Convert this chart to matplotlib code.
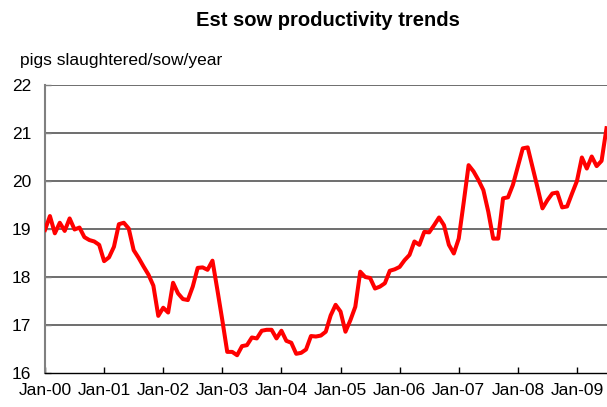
import matplotlib
matplotlib.use("Agg")
import matplotlib.pyplot as plt
import numpy as np

plt.rcParams['font.family'] = ['Liberation Sans', 'DejaVu Sans']

# Monthly series, Jan-2000 .. Jul-2009
values = [
    18.98, 19.27, 18.91, 19.13, 18.96, 19.22, 18.99, 19.03, 18.83, 18.77, 18.74, 18.67,  # 2000
    18.33, 18.41, 18.63, 19.10, 19.13, 19.01, 18.56, 18.40, 18.22, 18.05, 17.82, 17.19,  # 2001
    17.36, 17.26, 17.88, 17.66, 17.54, 17.52, 17.80, 18.19, 18.20, 18.15, 18.34, 17.73,  # 2002
    17.10, 16.44, 16.44, 16.37, 16.56, 16.58, 16.74, 16.72, 16.88, 16.90, 16.90, 16.72,  # 2003
    16.88, 16.67, 16.63, 16.40, 16.42, 16.49, 16.77, 16.76, 16.78, 16.86, 17.20, 17.42,  # 2004
    17.28, 16.86, 17.10, 17.38, 18.11, 18.00, 17.98, 17.76, 17.80, 17.87, 18.13, 18.16,  # 2005
    18.21, 18.35, 18.46, 18.74, 18.67, 18.94, 18.93, 19.08, 19.24, 19.08, 18.67, 18.49,  # 2006
    18.80, 19.55, 20.33, 20.20, 20.02, 19.81, 19.36, 18.80, 18.80, 19.64, 19.66, 19.92,  # 2007
    20.30, 20.68, 20.70, 20.28, 19.86, 19.43, 19.60, 19.74, 19.76, 19.45, 19.47, 19.74,  # 2008
    20.00, 20.49, 20.26, 20.51, 20.31, 20.42, 21.10,                                    # 2009
]
year_labels = ["Jan-00", "Jan-01", "Jan-02", "Jan-03", "Jan-04",
               "Jan-05", "Jan-06", "Jan-07", "Jan-08", "Jan-09"]
y_ticks = [16, 17, 18, 19, 20, 21, 22]

title = "Est sow productivity trends"
y_title = "pigs slaughtered/sow/year"

W, H = 607, 407
fig = plt.figure(figsize=(W / 100, H / 100), dpi=100)
ax = fig.add_axes([45 / W, (H - 373) / H, 562 / W, 288 / H])

months = np.arange(len(values))
ax.plot(months, values, color="#FF0000", lw=2.9, solid_joinstyle="round",
        clip_on=True, zorder=3)

ax.set_xlim(0, 114.1)
ax.set_ylim(16, 22)

ax.set_yticks(y_ticks)
ax.set_yticklabels([str(v) for v in y_ticks], fontsize=12.5)
ax.set_xticks(np.arange(len(year_labels)) * 12)
ax.set_xticklabels(year_labels, fontsize=12.5)

for v in y_ticks[1:]:
    ax.axhline(v, color="#555555", lw=1.2, zorder=1)

for side in ["right", "top"]:
    ax.spines[side].set_visible(False)
ax.spines["left"].set_color("#808080")
ax.spines["left"].set_linewidth(1.5)
ax.spines["bottom"].set_color("#000000")
ax.spines["bottom"].set_linewidth(1.0)

ax.tick_params(axis="x", direction="in", length=4, width=1, color="#000000", pad=7)
ax.tick_params(axis="y", direction="in", length=4, width=1, color="#808080", pad=10)

fig.text(328 / W, 1 - 20 / H, title, fontsize=14.5, fontweight="bold",
         ha="center", va="center")
fig.text(20 / W, 1 - 60 / H, y_title, fontsize=12.5, ha="left", va="center")

fig.savefig("out.png", dpi=100)
